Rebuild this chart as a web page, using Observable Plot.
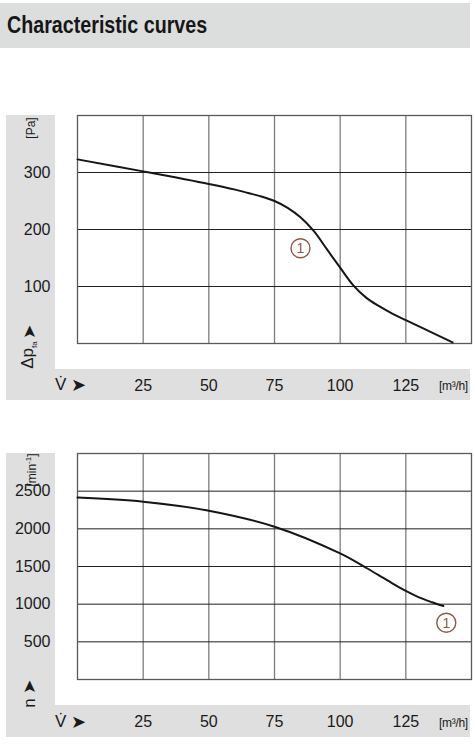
<!DOCTYPE html>
<html>
<head>
<meta charset="utf-8">
<script src="https://cdn.jsdelivr.net/npm/d3@7"></script>
<script src="https://cdn.jsdelivr.net/npm/@observablehq/plot@0.6"></script>
<style>
  body { margin: 0; background: #fff; }
  #page { position: relative; width: 475px; height: 746px; overflow: hidden;
          font-family: "Liberation Sans", Arial, sans-serif; color: #1a1a1a; }
  .gray { position: absolute; background: #dfdfdf; }
  #header { position: absolute; left: 0; top: 3px; width: 470px; height: 45px; background: #dcdddd; }
  #header span { position: absolute; left: 7px; top: 10px; font-weight: bold; font-size: 24px; line-height: 24px;
                 white-space: nowrap; transform: scaleX(0.82); transform-origin: 0 50%; color: #161616; }
  .lbl { position: absolute; white-space: nowrap; line-height: 1; }
  .rot { position: absolute; white-space: nowrap; line-height: 1; transform: translate(-50%, -50%) rotate(-90deg); }
  .chart { position: absolute; left: 0; }
  .chart svg { overflow: visible; }
</style>
</head>
<body>
<div id="page">
  <div id="header"><span>Characteristic curves</span></div>

  <!-- top chart gray L -->
  <div class="gray" style="left:6px; top:115px; width:49px; height:255px;"></div>
  <div class="gray" style="left:6px; top:369px; width:464px; height:31px;"></div>
  <!-- bottom chart gray L -->
  <div class="gray" style="left:6px; top:453px; width:49px; height:253px;"></div>
  <div class="gray" style="left:6px; top:705px; width:464px; height:32px;"></div>

  <div class="chart" id="top" style="top:100px;"></div>
  <div class="chart" id="bottom" style="top:440px;"></div>

  <!-- top chart decorations -->
  <div class="rot" style="left:31px; top:128px; font-size:12px;">[Pa]</div>
  <div class="rot" style="left:29px; top:332px; font-size:17px;">➤</div>
  <div class="rot" style="left:29px; top:355px; font-size:17px;">Δp<sub style="font-size:8px;">fa</sub></div>
  <div class="lbl" style="left:55px; top:376px; font-size:17px;">V̇</div>
  <div class="lbl" style="left:71px; top:376px; font-size:18px;">➤</div>
  <div class="lbl" style="left:439px; top:380px; font-size:12px; letter-spacing:-0.3px;">[m³/h]</div>

  <!-- bottom chart decorations -->
  <div class="rot" style="left:31px; top:470px; font-size:12px;">[min<sup style="font-size:8px;">-1</sup>]</div>
  <div class="rot" style="left:29px; top:687px; font-size:17px;">➤</div>
  <div class="rot" style="left:29px; top:703px; font-size:17px;">n</div>
  <div class="lbl" style="left:55px; top:713px; font-size:17px;">V̇</div>
  <div class="lbl" style="left:71px; top:713px; font-size:18px;">➤</div>
  <div class="lbl" style="left:439px; top:717px; font-size:12px; letter-spacing:-0.3px;">[m³/h]</div>
</div>

<script>
// ---- data ----
const flowTicks = [25, 50, 75, 100, 125];          // m³/h
const pressureTicks = [100, 200, 300];             // Pa
const speedTicks = [500, 1000, 1500, 2000, 2500];  // min^-1

// pressure curve ①
const pressureFlow   = [0, 25, 50, 60, 65, 70, 75, 80, 85, 90, 95, 100, 105, 110, 115, 120, 125, 130, 135, 142.8];
const pressureValues = [323, 302, 280, 270, 264, 258, 250, 238, 221, 197, 165, 133, 102, 80, 65, 52, 41, 30, 19, 2];

// speed curve ①
const speedFlow   = [0, 25, 50, 75, 100, 110, 118, 125, 130, 135, 139.3];
const speedValues = [2415, 2361, 2241, 2028, 1673, 1480, 1315, 1175, 1090, 1025, 975];

// curve markers "1"
const markerLabel = ["1"];
const markerPressureFlow = [84.9];
const markerPressure = [167];
const markerSpeedFlow = [140.4];
const markerSpeed = [753];

const pressureData = pressureFlow.map((v, i) => ({V: v, p: pressureValues[i]}));
const speedData = speedFlow.map((v, i) => ({V: v, n: speedValues[i]}));
const markP = markerLabel.map((t, i) => ({t, V: markerPressureFlow[i], p: markerPressure[i]}));
const markN = markerLabel.map((t, i) => ({t, V: markerSpeedFlow[i], n: markerSpeed[i]}));

const FONT = '"Liberation Sans", Arial, sans-serif';
const GRIDV = "#7d7d7d", GRIDH = "#202020", CURVE = "#161616", MARK = "#8c5a4b";

function chart({data, yField, yDomain, yTicks, marks, marginTop, marginBottom}) {
  return Plot.plot({
    width: 475, height: 300,
    marginLeft: 77, marginRight: 4, marginTop, marginBottom,
    style: {fontFamily: FONT, background: "transparent", color: "#1a1a1a"},
    x: {domain: [0, 150], label: null},
    y: {domain: yDomain, label: null},
    marks: [
      Plot.ruleX(flowTicks, {stroke: GRIDV, strokeWidth: 1.3}),
      Plot.ruleY(yTicks, {stroke: GRIDH, strokeWidth: 1}),
      Plot.frame({stroke: "#5a5a5a", strokeWidth: 1.3}),
      Plot.line(data, {x: "V", y: yField, curve: "catmull-rom", stroke: CURVE, strokeWidth: 2}),
      Plot.axisX(flowTicks, {tickSize: 0, tickPadding: 36, fontSize: 16, label: null, tickFormat: d => String(d)}),
      Plot.axisY(yTicks, {tickSize: 0, tickPadding: 27, fontSize: 16, label: null, tickFormat: d => String(d)}),
      Plot.dot(marks, {x: "V", y: yField, r: 9.5, stroke: MARK, fill: "white", strokeWidth: 1.4}),
      Plot.text(marks, {x: "V", y: yField, text: "t", fill: MARK, fontSize: 14, dy: 0.5})
    ]
  });
}

document.getElementById("top").append(chart({
  data: pressureData, yField: "p", yDomain: [0, 400], yTicks: pressureTicks,
  marks: markP, marginTop: 15, marginBottom: 57
}));
document.getElementById("bottom").append(chart({
  data: speedData, yField: "n", yDomain: [0, 3000], yTicks: speedTicks,
  marks: markN, marginTop: 13, marginBottom: 61
}));
</script>
</body>
</html>
